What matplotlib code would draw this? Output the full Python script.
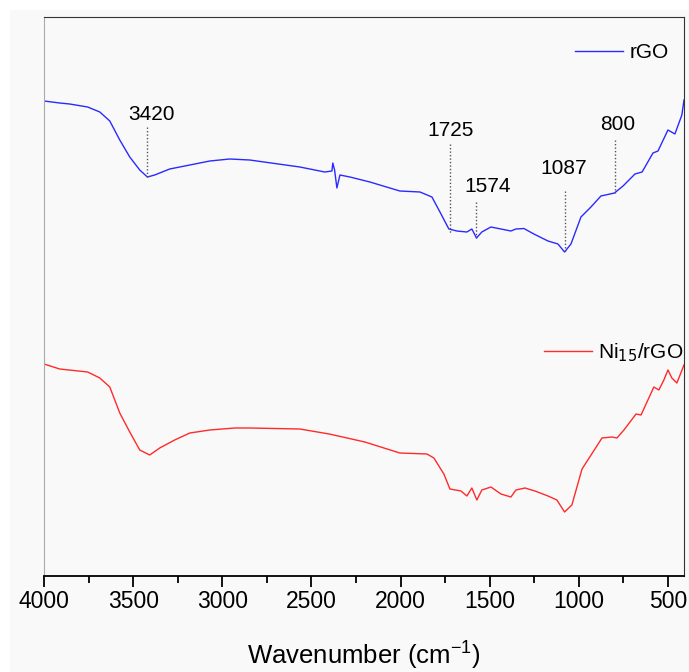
import matplotlib
matplotlib.use("Agg")
import matplotlib.pyplot as plt
from matplotlib.patches import Rectangle
from matplotlib.ticker import MultipleLocator

plt.rcParams['font.family'] = ['Liberation Sans', 'DejaVu Sans']

# ------------------------------
# Data (arbitrary transmittance units)
# ------------------------------
rgo_wn = [4000, 3912, 3856, 3755, 3687, 3631, 3575, 3519, 3463, 3420, 3379,
          3295, 3182, 3070, 2958, 2846, 2565, 2425, 2385, 2380, 2370, 2357,
          2340, 2284, 2172, 2004, 1891, 1824, 1779, 1729, 1684, 1628, 1600,
          1574, 1544, 1493, 1437, 1381, 1353, 1308, 1252, 1173, 1117, 1080,
          1044, 988, 932, 876, 800, 752, 685, 645, 584, 556, 500, 461, 422, 410]
rgo_t = [475, 473, 472, 469, 464, 455, 436, 419, 406, 399, 401,
         407, 411, 415, 417, 416, 409, 404, 405, 413, 406, 388,
         401, 399, 394, 385, 384, 379, 364, 347, 345, 344, 347,
         338, 344, 349, 347, 345, 347, 347.5, 342, 335, 332, 324,
         332, 359, 369, 380, 383, 390, 402, 404, 423, 425, 446, 442, 461, 476]

ni_wn = [4000, 3912, 3755, 3687, 3631, 3575, 3519, 3463, 3407, 3351, 3267,
         3182, 3070, 2930, 2846, 2565, 2400, 2200, 2004, 1852, 1813, 1757,
         1723, 1661, 1628, 1600, 1572, 1544, 1493, 1437, 1381, 1353, 1302,
         1246, 1173, 1123, 1080, 1039, 982, 870, 814, 786, 747, 679, 651,
         579, 551, 523, 500, 478, 450, 410]
ni_t = [212, 207, 204, 198, 189, 163, 144, 126, 121, 128, 136,
        143, 146, 148, 148, 147, 142, 134, 123, 122, 118, 102,
        87, 85, 80, 88, 76, 86, 89, 82, 79, 86, 88,
        85, 80, 76, 64, 71, 107, 138, 139, 138, 146, 162, 161,
        189, 186, 196, 206, 198, 193, 211]

# peak labels
peak_labels = ["3420", "1725", "1574", "1087", "800"]
peak_wn = [3425, 1725, 1574, 1080, 797]
peak_text_wn = [3396, 1718, 1510, 1084, 781]
peak_text_y = [461, 446, 389, 407, 451]
peak_line_top = [449, 432, 374, 385, 436]
peak_line_bot = [398, 343, 338, 324, 383]

# ------------------------------
# Figure
# ------------------------------
fig = plt.figure(figsize=(6.89, 6.72), dpi=100, facecolor='white')
bg = Rectangle((10 / 689, 0), 1, 662 / 672, transform=fig.transFigure,
               facecolor='#f9f9f9', edgecolor='none', zorder=-10)
fig.add_artist(bg)
ax = fig.add_axes([44 / 689, 96 / 672, 640 / 689, 559 / 672])
ax.set_facecolor('#f9f9f9')

l1, = ax.plot(rgo_wn, rgo_t, color='#2a2aff', lw=1.0, label='rGO')
l2, = ax.plot(ni_wn, ni_t, color='#ff2a2a', lw=1.0, label='Ni$_{15}$/rGO')

for lab, wn, tx, ty, top, bot in zip(peak_labels, peak_wn, peak_text_wn, peak_text_y,
                                     peak_line_top, peak_line_bot):
    ax.plot([wn, wn], [top, bot], color='#555555', lw=1.0, ls=(0, (1, 1.5)))
    ax.text(tx, ty, lab, fontsize=15, ha='center', va='center')

ax.set_xlim(4000, 410)
ax.set_ylim(0, 559)
ax.set_yticks([])
ax.xaxis.set_major_locator(MultipleLocator(500))
ax.xaxis.set_minor_locator(MultipleLocator(250))
ax.tick_params(axis='x', which='major', direction='out', length=8, width=1.3,
               labelsize=16.5, pad=2)
ax.tick_params(axis='x', which='minor', direction='out', length=5, width=1.3)

ax.spines['left'].set_color('#aaaaaa')
ax.spines['top'].set_color('#333333')
ax.spines['right'].set_color('#333333')
ax.spines['bottom'].set_linewidth(1.3)

ax.set_xlabel('Wavenumber (cm$^{\\mathregular{-1}}$)', fontsize=18.5, labelpad=18)

leg1 = ax.legend(handles=[l1], loc='center left', bbox_to_anchor=(0.830, 0.936),
                 frameon=False, fontsize=15, handlelength=2.3, handletextpad=0.3,
                 borderpad=0, borderaxespad=0)
ax.add_artist(leg1)
ax.legend(handles=[l2], loc='center left', bbox_to_anchor=(0.781, 0.400),
          frameon=False, fontsize=15, handlelength=2.3, handletextpad=0.3,
          borderpad=0, borderaxespad=0)

plt.savefig('out.png', dpi=100)
